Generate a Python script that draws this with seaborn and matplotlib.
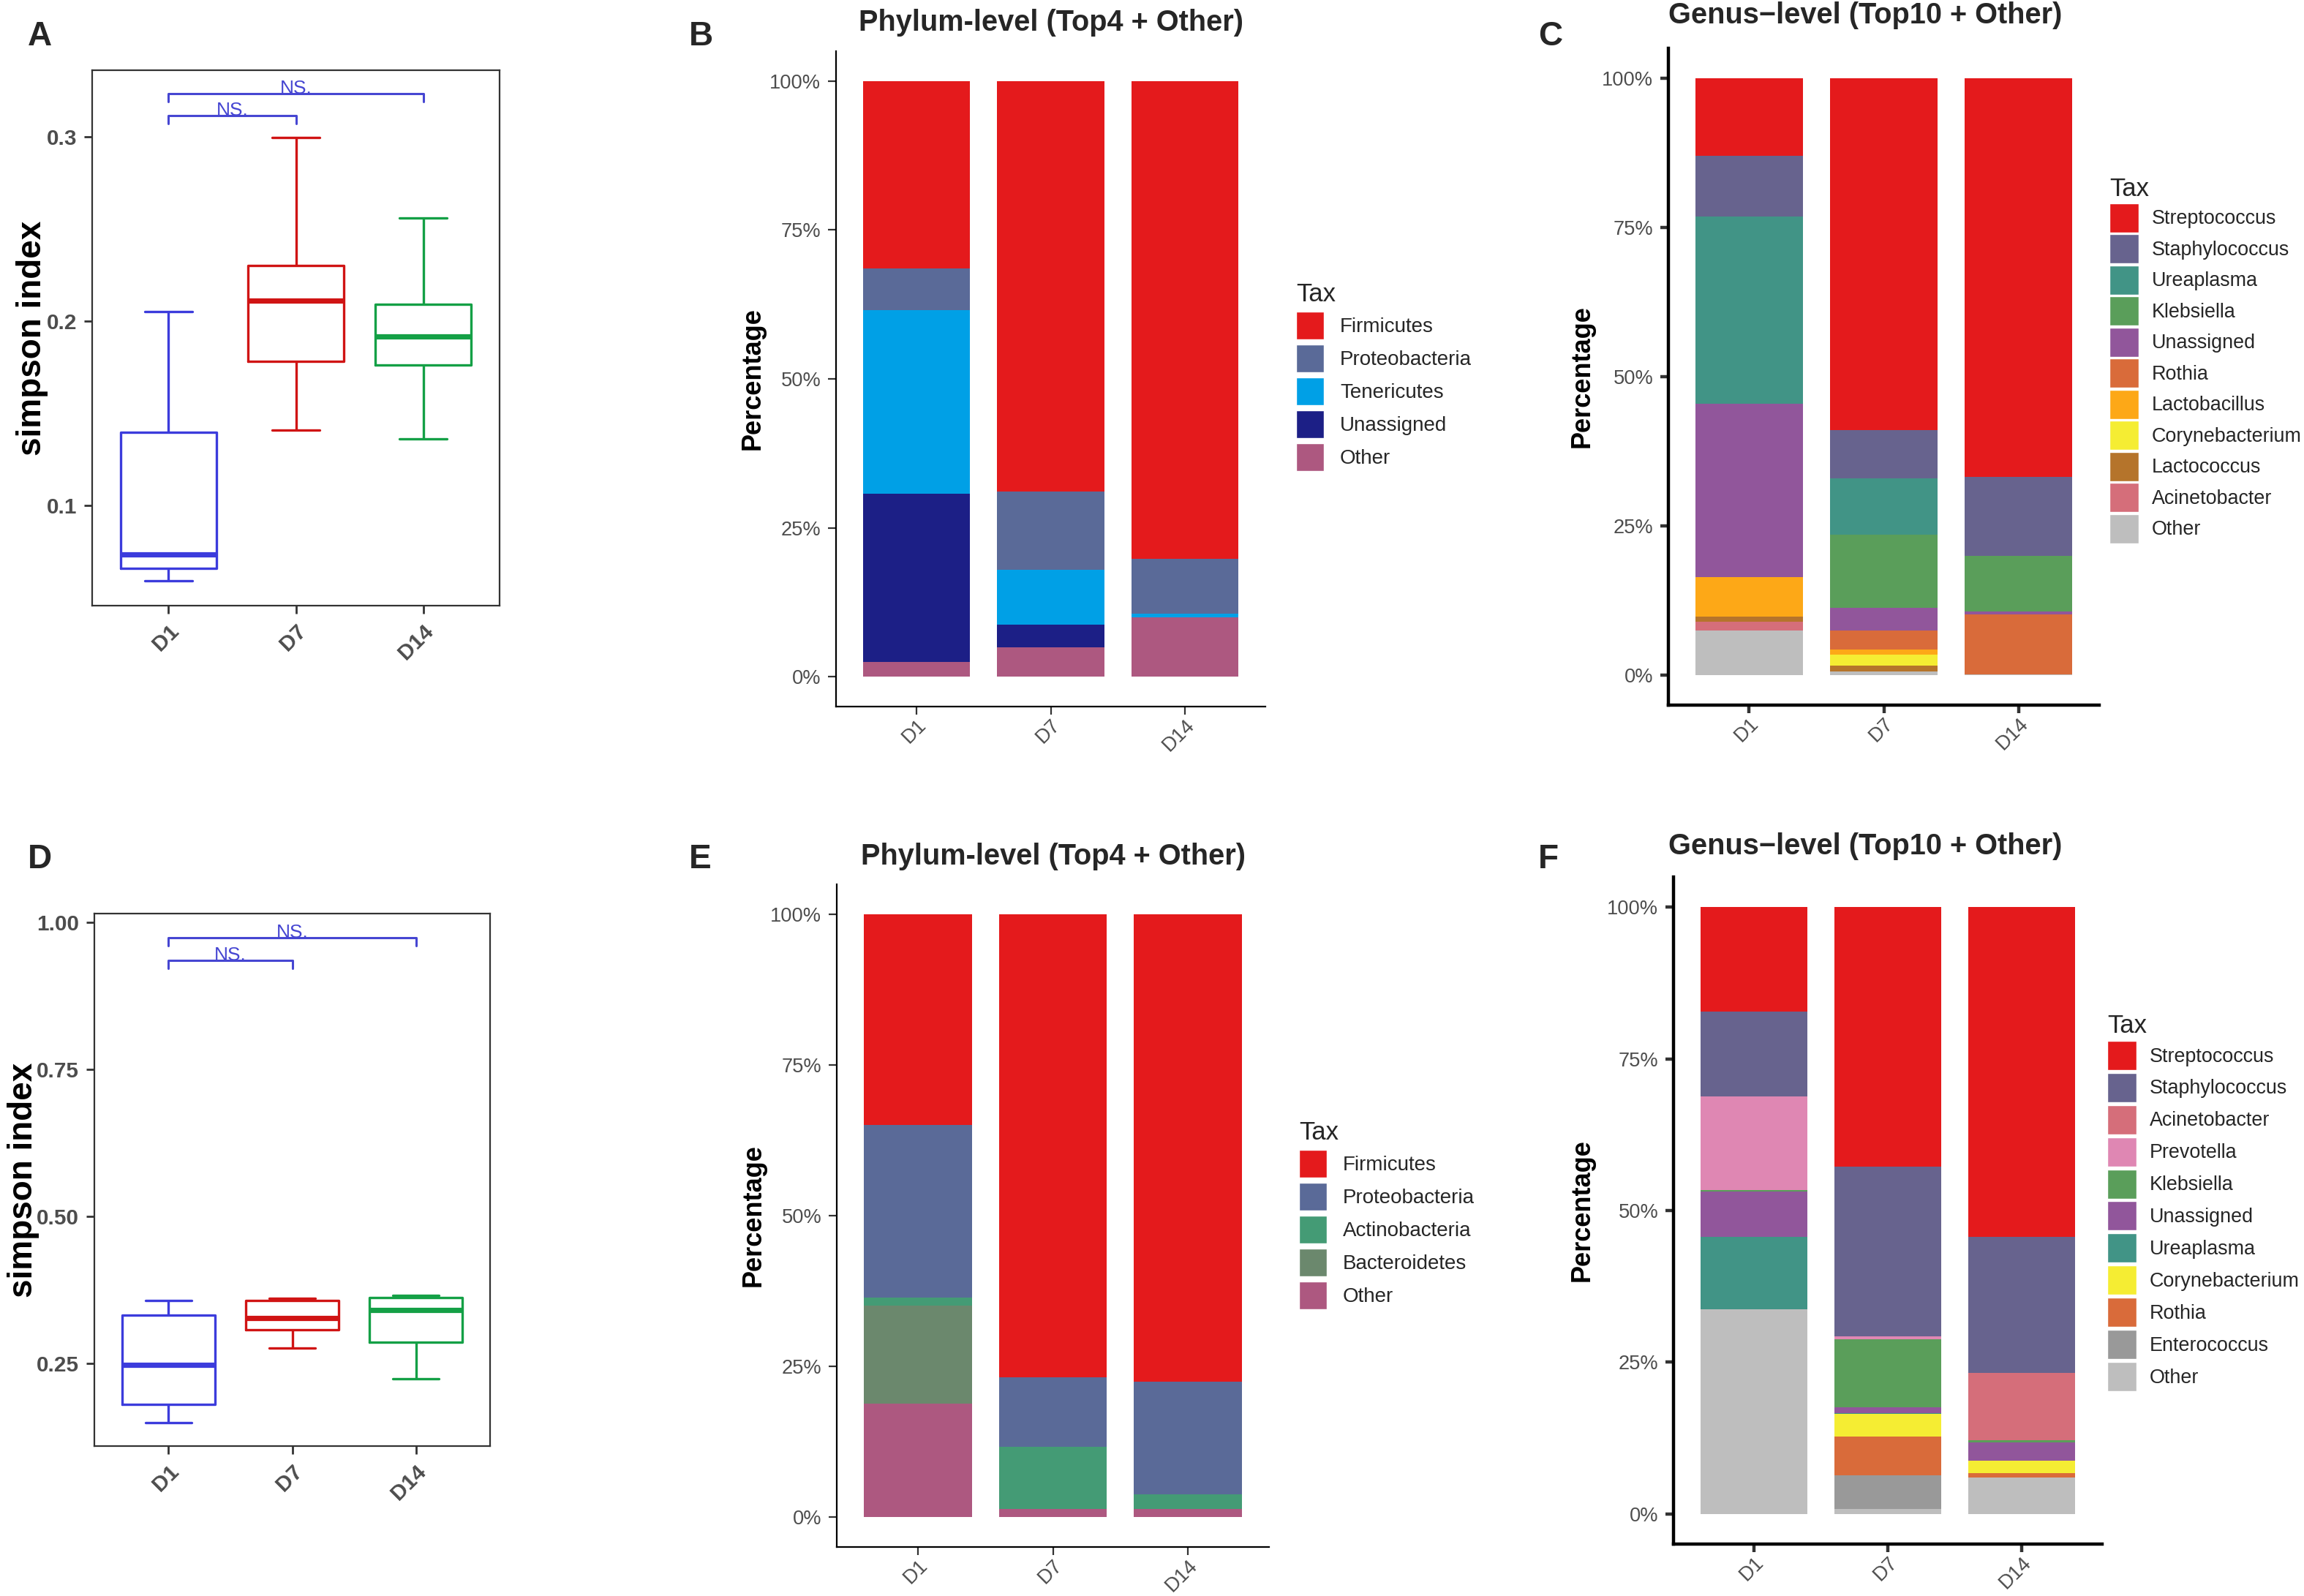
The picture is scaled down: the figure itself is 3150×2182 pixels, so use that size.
import numpy as np
import pandas as pd
import matplotlib
matplotlib.use("Agg")
import matplotlib.pyplot as plt
import seaborn as sns
from matplotlib.patches import Patch
from matplotlib.ticker import FuncFormatter

sns.set_theme(style="ticks")
plt.rcParams['font.family'] = ['Liberation Sans', 'DejaVu Sans']

W, H, DPI = 3150, 2182, 200

days = ['D1', 'D7', 'D14']

# simpson index, five numbers: min, q1, median, q3, max
simpson_top_d1 = [0.059, 0.066, 0.0735, 0.1395, 0.205]
simpson_top_d7 = [0.141, 0.178, 0.211, 0.230, 0.2995]
simpson_top_d14 = [0.136, 0.176, 0.1915, 0.209, 0.256]

simpson_bot_d1 = [0.150, 0.181, 0.248, 0.333, 0.358]
simpson_bot_d7 = [0.276, 0.308, 0.328, 0.357, 0.361]
simpson_bot_d14 = [0.224, 0.286, 0.341, 0.362, 0.366]

box_colors = ['#3C3CDC', '#D01414', '#14A046']
sig_blue = '#4646D2'

# phylum level (percent), rows = taxa, columns = D1, D7, D14
phylum_top_taxa = ['Firmicutes', 'Proteobacteria', 'Tenericutes', 'Unassigned', 'Other']
phylum_top_values = [
    [31.5, 68.9, 80.2],
    [6.9, 13.1, 9.2],
    [30.9, 9.3, 0.6],
    [28.2, 3.7, 0.0],
    [2.5, 5.0, 10.0],
]
phylum_top_colors = ['#E41A1C', '#5A6A98', '#00A0E6', '#1C1F86', '#AD5880']

phylum_bot_taxa = ['Firmicutes', 'Proteobacteria', 'Actinobacteria', 'Bacteroidetes', 'Other']
phylum_bot_values = [
    [34.9, 76.8, 77.5],
    [28.7, 11.6, 18.8],
    [1.3, 10.3, 2.4],
    [16.3, 0.0, 0.0],
    [18.8, 1.3, 1.3],
]
phylum_bot_colors = ['#E41A1C', '#5A6A98', '#449B75', '#6B886D', '#AD5880']

# genus level (percent)
genus_top_taxa = ['Streptococcus', 'Staphylococcus', 'Ureaplasma', 'Klebsiella', 'Unassigned',
                  'Rothia', 'Lactobacillus', 'Corynebacterium', 'Lactococcus', 'Acinetobacter', 'Other']
genus_top_values = [
    [13.0, 58.9, 66.8],
    [10.2, 8.1, 13.2],
    [31.3, 9.5, 0.0],
    [0.0, 12.2, 9.3],
    [29.1, 3.8, 0.5],
    [0.0, 3.2, 10.1],
    [6.6, 0.9, 0.0],
    [0.0, 1.8, 0.0],
    [0.8, 0.95, 0.0],
    [1.5, 0.0, 0.0],
    [7.5, 0.65, 0.1],
]
genus_top_colors = ['#E41A1C', '#67638E', '#419486', '#5A9E5A', '#91569B',
                    '#D96B3A', '#FDA817', '#F5ED33', '#B5742B', '#D56E7A', '#BEBEBE']

genus_bot_taxa = ['Streptococcus', 'Staphylococcus', 'Acinetobacter', 'Prevotella', 'Klebsiella',
                  'Unassigned', 'Ureaplasma', 'Corynebacterium', 'Rothia', 'Enterococcus', 'Other']
genus_bot_values = [
    [17.2, 42.8, 54.4],
    [14.0, 28.0, 22.4],
    [0.0, 0.0, 11.1],
    [15.4, 0.4, 0.0],
    [0.3, 11.3, 0.3],
    [7.5, 0.9, 3.0],
    [11.9, 0.1, 0.0],
    [0.0, 3.8, 2.1],
    [0.0, 6.4, 0.7],
    [0.0, 5.5, 0.0],
    [33.7, 0.8, 6.0],
]
genus_bot_colors = ['#E41A1C', '#67638E', '#D56E7A', '#DF87B3', '#5A9E5A',
                    '#91569B', '#419486', '#F5ED33', '#D96B3A', '#999999', '#BEBEBE']

GREY = '#4D4D4D'


def px_rect(l, t, r, b):
    return [l / W, 1 - b / H, (r - l) / W, (b - t) / H]


def draw_box(ax, groups, ylim, yticks, fmt, brackets, ylabel_x):
    df = pd.DataFrame({'Day': np.repeat(days, 5), 'simpson': np.concatenate(groups)})
    sns.boxplot(data=df, x='Day', y='simpson', hue='Day', order=days, hue_order=days,
                palette=box_colors, fill=False, width=0.75, linewidth=1.2, whis=1.5,
                medianprops=dict(linewidth=2.6), legend=False, ax=ax)
    for x1, x2, y, drop in brackets:
        ax.plot([x1, x1, x2, x2], [y - drop, y, y, y - drop], color=sig_blue, lw=1.1)
        ax.text((x1 + x2) / 2, y, 'NS.', ha='center', va='baseline', color=sig_blue, fontsize=9.5)
    ax.set_xlim(-0.6, 2.6)
    ax.set_ylim(*ylim)
    ax.set_yticks(yticks)
    ax.yaxis.set_major_formatter(FuncFormatter(lambda v, p: fmt.format(v)))
    for s in ax.spines.values():
        s.set_visible(True)
        s.set_color('#333333')
        s.set_linewidth(0.8)
    ax.tick_params(axis='both', length=4, width=1.0, color='#333333', labelcolor=GREY, labelsize=10.7)
    for lab in ax.get_yticklabels() + ax.get_xticklabels():
        lab.set_fontweight('bold')
    plt.setp(ax.get_xticklabels(), rotation=45, ha='right', rotation_mode='anchor')
    ax.set_xlabel('')
    ax.set_ylabel('simpson index', fontsize=16.5, fontweight='bold', color='black')
    ax.yaxis.set_label_coords(ylabel_x, 0.5)


def draw_stack(ax, taxa, values, colors, axis_lw, ylabel_x):
    bottom = np.zeros(len(days))
    for name, vals, col in reversed(list(zip(taxa, values, colors))):
        vals = np.asarray(vals, dtype=float)
        sns.barplot(x=days, y=vals, order=days, bottom=bottom, color=col, saturation=1,
                    width=0.8, errorbar=None, linewidth=0, ax=ax)
        bottom = bottom + vals
    ax.set_xlim(-0.6, 2.6)
    ax.set_ylim(-5, 105)
    ax.set_yticks([0, 25, 50, 75, 100])
    ax.yaxis.set_major_formatter(FuncFormatter(lambda v, p: f'{v:.0f}%'))
    sns.despine(ax=ax)
    for s in ['left', 'bottom']:
        ax.spines[s].set_color('black')
        ax.spines[s].set_linewidth(axis_lw)
    ax.tick_params(axis='both', length=4, width=axis_lw, color='#333333', labelcolor=GREY, labelsize=9.8)
    ax.tick_params(axis='x', pad=0.5)
    plt.setp(ax.get_xticklabels(), rotation=45, ha='right', rotation_mode='anchor')
    ax.set_xlabel('')
    ax.set_ylabel('Percentage', fontsize=13, fontweight='bold', color='black')
    ax.yaxis.set_label_coords(ylabel_x, 0.5)


def tax_legend(fig, taxa, colors, x_px, y_px, fontsize, key_px, row_px, pad_px):
    em = fontsize * DPI / 72
    # legend patch height = em * (0.65 * handleheight + 0.245)
    hh = (key_px / em - 0.245) / 0.65
    handles = [Patch(facecolor=c, edgecolor='white', linewidth=0.5) for c in colors]
    fig.legend(handles, taxa, title='Tax', loc='upper left',
               bbox_to_anchor=(x_px / W, 1 - y_px / H), frameon=False,
               fontsize=fontsize, title_fontsize=12.5,
               handlelength=key_px / em, handleheight=hh,
               labelspacing=(row_px - key_px) / em, handletextpad=pad_px / em,
               borderpad=0, borderaxespad=0, alignment='left')


fig = plt.figure(figsize=(W / DPI, H / DPI), dpi=DPI)

axA = fig.add_axes(px_rect(126, 96, 683, 828))
draw_box(axA, [simpson_top_d1, simpson_top_d7, simpson_top_d14], (0.0457, 0.336), [0.1, 0.2, 0.3],
         '{:.1f}', [(0, 2, 0.3234, 0.0044), (0, 1, 0.3115, 0.0045)], -0.108)

axD = fig.add_axes(px_rect(129, 1249, 670, 1977))
draw_box(axD, [simpson_bot_d1, simpson_bot_d7, simpson_bot_d14], (0.110, 1.015), [0.25, 0.5, 0.75, 1.0],
         '{:.2f}', [(0, 2, 0.974, 0.014), (0, 1, 0.936, 0.014)], -0.139)

axB = fig.add_axes(px_rect(1143, 70, 1730, 966))
draw_stack(axB, phylum_top_taxa, phylum_top_values, phylum_top_colors, 0.8, -0.165)

axE = fig.add_axes(px_rect(1144, 1209, 1735, 2115))
draw_stack(axE, phylum_bot_taxa, phylum_bot_values, phylum_bot_colors, 0.8, -0.163)

axC = fig.add_axes(px_rect(2281, 66, 2870, 964))
draw_stack(axC, genus_top_taxa, genus_top_values, genus_top_colors, 1.6, -0.171)

axF = fig.add_axes(px_rect(2288, 1199, 2874, 2111))
draw_stack(axF, genus_bot_taxa, genus_bot_values, genus_bot_colors, 1.6, -0.184)

# titles
fig.text(1437 / W, 1 - 42 / H, 'Phylum-level (Top4 + Other)', ha='center', va='baseline',
         fontsize=14.3, fontweight='bold')
fig.text(1440 / W, 1 - 1182 / H, 'Phylum-level (Top4 + Other)', ha='center', va='baseline',
         fontsize=14.3, fontweight='bold')
fig.text(2550 / W, 1 - 32 / H, 'Genus\u2212level (Top10 + Other)', ha='center', va='baseline',
         fontsize=14.3, fontweight='bold')
fig.text(2550 / W, 1 - 1168 / H, 'Genus\u2212level (Top10 + Other)', ha='center', va='baseline',
         fontsize=14.3, fontweight='bold')

# legends
tax_legend(fig, phylum_top_taxa, phylum_top_colors, 1772, 386, 10, 38, 45, 22)
tax_legend(fig, phylum_bot_taxa, phylum_bot_colors, 1776, 1532, 10, 38, 45, 22)
tax_legend(fig, genus_top_taxa, genus_top_colors, 2884, 242, 9.7, 40, 42.5, 18)
tax_legend(fig, genus_bot_taxa, genus_bot_colors, 2881, 1386, 9.7, 40, 43.9, 18)

# panel letters
for letter, x, y in [('A', 38, 28), ('B', 942, 28), ('C', 2103, 28),
                     ('D', 38, 1153), ('E', 942, 1153), ('F', 2103, 1153)]:
    fig.text(x / W, 1 - y / H, letter, ha='left', va='top', fontsize=16.5, fontweight='bold')

fig.savefig('out.png', dpi=DPI, facecolor='white')
